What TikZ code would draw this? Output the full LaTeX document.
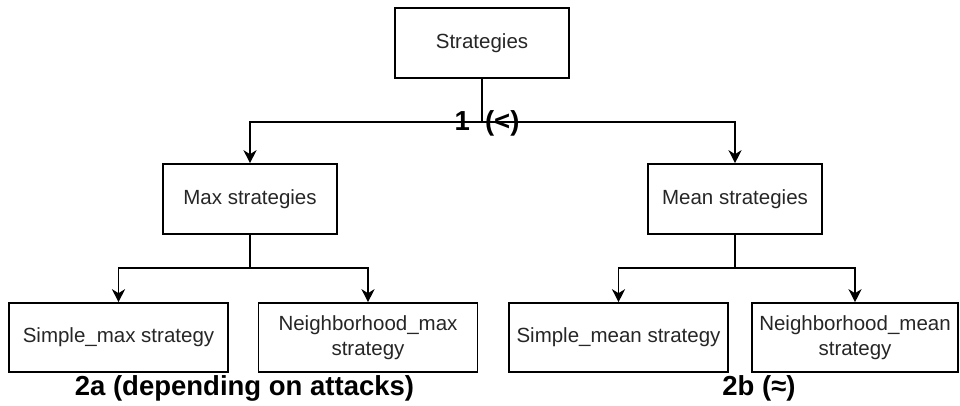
\documentclass[tikz,border=0pt]{standalone}
\usepackage{fontspec}
\setmainfont{Liberation Sans}
\usetikzlibrary{arrows.meta}

\tikzset{
  box/.style={draw, line width=1.6pt, minimum width=174pt, minimum height=70pt,
    inner sep=0pt, align=center, text=black!85,
    font=\fontsize{20.5}{24.6}\selectfont},
  leafbox/.style={box, minimum width=219pt, minimum height=69pt},
  link/.style={line width=1.6pt, -{Stealth[length=13pt,width=13pt,inset=4pt]}},
  tag/.style={inner sep=0pt, font=\fontsize{27.5}{33}\selectfont\bfseries}
}

\begin{document}
\begin{tikzpicture}[x=1pt,y=-1pt]
\useasboundingbox (0,0) rectangle (960,405);

% boxes
\node[box] (root) at (482,43) {Strategies};
\node[box] (max) at (250,199) {Max strategies};
\node[box] (mean) at (735,199) {Mean strategies};

\node[leafbox] (smax) at (118.5,337.5) {Simple\_max strategy};
\node[leafbox] (nmax) at (368,337.5) {Neighborhood\_max\\strategy};
\node[leafbox] (smean) at (618.5,337.5) {Simple\_mean strategy};
\node[leafbox, minimum width=206pt] (nmean) at (855,337.5) {Neighborhood\_mean\\strategy};

% junctions
\coordinate (j1) at (482,122);
\coordinate (j2) at (250,268);
\coordinate (j3) at (735,268);

% connectors
\draw[link] (root) -- (j1) -| (max);
\draw[link] (root) -- (j1) -| (mean);
\draw[link] (max) -- (j2) -| (smax);
\draw[link] (max) -- (j2) -| (nmax);
\draw[link] (mean) -- (j3) -| (smean);
\draw[link] (mean) -- (j3) -| (nmean);

% labels
\node[tag] (t1) at (487,123) {1\ \ (<)};
\node[tag] (t2a) at (244.5,388) {2a (depending on attacks)};
\node[tag] (t2b) at (759,388) {2b (≈)};
\end{tikzpicture}
\end{document}
